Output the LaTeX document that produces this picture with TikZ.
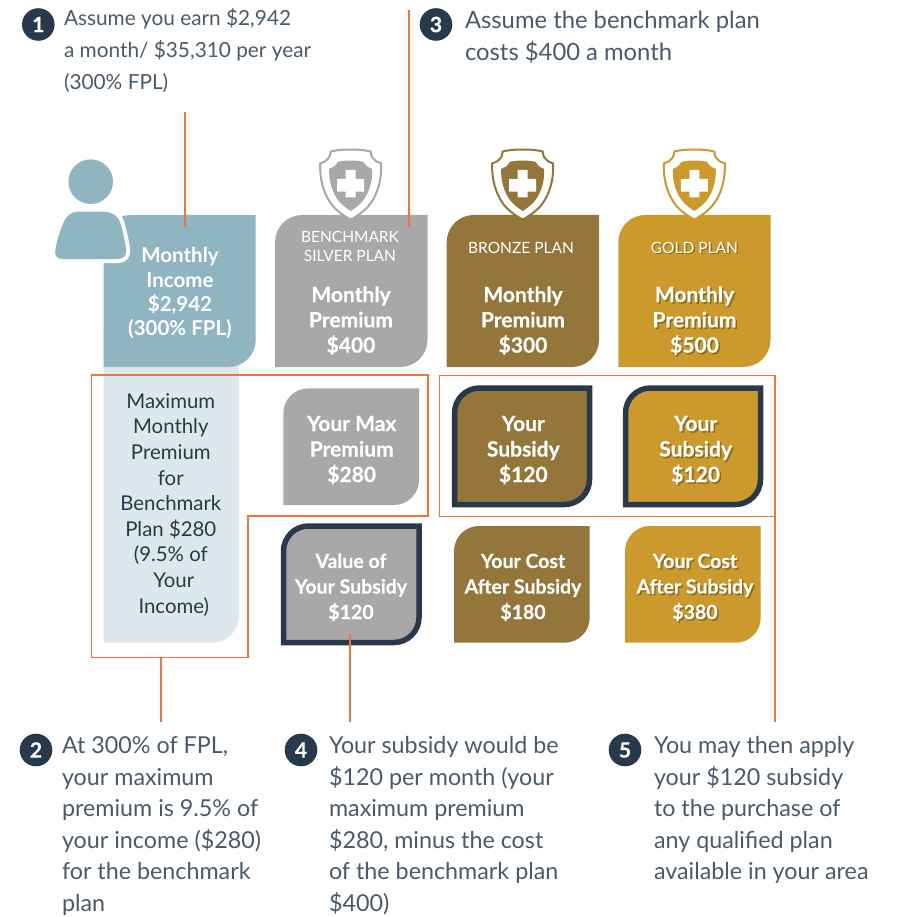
\documentclass[tikz,border=0pt]{standalone}
\usepackage{fontspec}
\setmainfont{Lato}
\newfontfamily\heavyface[BoldFeatures={FakeBold=0.35}]{Lato}
\definecolor{teal}{HTML}{8FB5C1}
\definecolor{pale}{HTML}{DCE8EC}
\definecolor{silver}{HTML}{A9A7A8}
\definecolor{bronze}{HTML}{94763A}
\definecolor{gold}{HTML}{CC992C}
\definecolor{navy}{HTML}{27394A}
\definecolor{wire}{HTML}{F4713A}
\definecolor{ink}{HTML}{4A5A6A}
\tikzset{
  wireline/.style={draw=wire,line width=1.5pt},
  tag/.style={circle,fill=navy,minimum size=32.6pt,inner sep=0pt,text=white,font=\fontsize{21}{21}\selectfont\heavyface\bfseries},
  lbl/.style={inner sep=0pt,outer sep=0pt},
  ctr/.style={align=center},
  ctrm/.style={align=center,node font=\bfseries},
  ctrb/.style={align=center,node font=\heavyface\bfseries},
  lft/.style={align=left},
}
% name, anchor, x, first baseline, size, leading, options, text
\newcommand\txt[8]{\node[lbl,anchor=#2,#7,font=\fontsize{#5}{#6}\selectfont] (#1) at (#3,{#4-.7*#6}) {\strut #8};}
% x1,y1,x2,y2,r,options
\newcommand\planbox[6]{\path[#6] (#1,#4) -- (#1,{#2+#5}) .. controls (#1,{#2+.45*#5}) and ({#1+.45*#5},#2) .. ({#1+#5},#2) -- (#3,#2) -- (#3,{#4-#5}) .. controls (#3,{#4-.45*#5}) and ({#3-.45*#5},#4) .. ({#3-#5},#4) -- cycle;}
% centre x, colour
\newcommand\shield[2]{\begin{scope}[shift={(#1,0)}]
  \path[fill=white,draw=#2,line width=2pt] (0,149.5) .. controls (-8,149.5) and (-14,150) .. (-20,151.5) .. controls (-20.5,155) and (-21,157) .. (-22,158) .. controls (-24,161) and (-27,162.5) .. (-30.5,163.5) .. controls (-31,178) and (-28,194) .. (-17,207) .. controls (-11,213) and (-5,217) .. (0,219.5) .. controls (5,217) and (11,213) .. (17,207) .. controls (28,194) and (31,178) .. (30.5,163.5) .. controls (27,162.5) and (24,161) .. (22,158) .. controls (21,157) and (20.5,155) .. (20,151.5) .. controls (14,150) and (8,149.5) .. (0,149.5) -- cycle;
  \path[fill=#2] (0,160.5) .. controls (-5,160.5) and (-10,161) .. (-13,162) .. controls (-15,166) and (-18,168) .. (-21.5,169) .. controls (-22,180) and (-19,192) .. (-12,201) .. controls (-8,205.5) and (-4,208.5) .. (0,211) .. controls (4,208.5) and (8,205.5) .. (12,201) .. controls (19,192) and (22,180) .. (21.5,169) .. controls (18,168) and (15,166) .. (13,162) .. controls (10,161) and (5,160.5) .. (0,160.5) -- cycle;
  \path[fill=white] (-5,170) rectangle (5,197.3) (-13.5,179) rectangle (13.5,191.7);
\end{scope}}
\begin{document}
\begin{tikzpicture}[x=1pt,y=-1pt]
\useasboundingbox (0,0) rectangle (899,917);
% plan boxes, top row
\planbox{103.5}{300}{239}{642.7}{27}{fill=pale}
\planbox{103.5}{215}{255.7}{367}{27}{fill=teal}
\planbox{275}{215}{427.5}{367}{27}{fill=silver}
\planbox{446.7}{215}{599}{367}{27}{fill=bronze}
\planbox{618.3}{215}{770.5}{367}{27}{fill=gold}
% shields
\shield{350.7}{silver}
\shield{522.7}{bronze}
\shield{694.3}{gold}
% person
\path[fill=teal] (90.7,181.7) circle[radius=22.3];
\path[fill=teal,preaction={draw=white,line width=8pt,line join=round}] (78,211.7) -- (103,211.7) .. controls (113,211.7) and (119,217) .. (121,225) .. controls (123,233) and (125,241) .. (126,249) .. controls (127,255) and (124,259) .. (118,259) -- (62,259) .. controls (57,259) and (54,255) .. (55.5,249) .. controls (57,240) and (60,231) .. (63,224) .. controls (66,216) and (71,211.7) .. (78,211.7) -- cycle;
% second row
\planbox{283.3}{388.3}{419}{505}{25}{fill=silver}
\planbox{454.5}{388}{589.5}{504.5}{25}{fill=bronze,draw=navy,line width=5.5pt}
\planbox{625.5}{388}{760.5}{504.5}{25}{fill=gold,draw=navy,line width=5.5pt}
% third row
\planbox{283.5}{526}{419}{642.5}{25}{fill=silver,draw=navy,line width=5.5pt}
\planbox{454}{526}{589.7}{642.7}{25}{fill=bronze}
\planbox{625}{526}{760.7}{642.7}{25}{fill=gold}
% wires
\path[wireline] (91.5,375) -- (428,375) -- (428,516) -- (248,516) -- (248,657.5) -- (91.5,657.5) -- cycle;
\path[wireline] (439.5,375.5) -- (775,375.5) -- (775,516.5) -- (439.5,516.5) -- cycle;
\coordinate (incTop) at (185,112);
\coordinate (incIn) at (185,227);
\coordinate (silTop) at (409,10);
\coordinate (silIn) at (409,227);
\coordinate (maxOut) at (161,657.5);
\coordinate (maxEnd) at (161,722);
\coordinate (valOut) at (350,634);
\coordinate (valEnd) at (350,722);
\coordinate (subOut) at (775,516.5);
\coordinate (subEnd) at (775,722);
\draw[wireline] (incTop) -- (incIn);
\draw[wireline] (silTop) -- (silIn);
\draw[wireline] (maxOut) -- (maxEnd);
\draw[wireline] (valOut) -- (valEnd);
\draw[wireline] (subOut) -- (subEnd);
% numbered tags
\node[tag] (t1) at (38.3,24.5) {1};
\node[tag] (t3) at (436,24.5) {3};
\node[tag] (t2) at (36,750) {2};
\node[tag] (t4) at (301,750) {4};
\node[tag] (t5) at (625,750) {5};
% notes
\begin{scope}[text=ink]
\txt{n1}{north west}{64}{26}{20.8}{32}{lft}{Assume you earn \$2,942\\a month/ \$35,310 per year\\(300\% FPL)}
\txt{n3}{north west}{465}{28.5}{23.8}{32}{lft}{Assume the benchmark plan\\costs \$400 a month}
\txt{n2}{north west}{62}{753.5}{23.3}{31.6}{lft}{At 300\% of FPL,\\your maximum\\premium is 9.5\% of\\your income (\$280)\\for the benchmark\\plan}
\txt{n4}{north west}{329}{753.5}{23.3}{31.6}{lft}{Your subsidy would be\\\$120 per month (your\\maximum premium\\\$280, minus the cost\\of the benchmark plan\\\$400)}
\txt{n5}{north west}{654}{753.5}{23.3}{31.6}{lft}{You may then apply\\your \$120 subsidy\\to the purchase of\\any qualified plan\\available in your area}
\end{scope}
% box texts
\begin{scope}[text=white]
\txt{incT}{north}{180}{262.7}{20.5}{24.3}{ctrm}{Monthly\\Income\\\$2,942\\(300\% FPL)}
\txt{silL}{north}{350}{242}{15.5}{19}{ctr}{BENCHMARK\\SILVER PLAN}
\txt{silT}{north}{351}{302}{21}{25.3}{ctrb}{Monthly\\Premium\\\$400}
\txt{broL}{north}{521}{253}{15.5}{19}{ctr}{BRONZE PLAN}
\txt{broT}{north}{523}{302}{21}{25.3}{ctrb}{Monthly\\Premium\\\$300}
\txt{maxT}{north}{351.7}{431}{21}{25.5}{ctrb}{Your Max\\Premium\\\$280}
\txt{valT}{north}{351}{568}{19.5}{25.5}{ctrb}{Value of\\Your Subsidy\\\$120}
\txt{subB}{north}{523.3}{431}{21}{25.5}{ctrb}{Your\\Subsidy\\\$120}
\txt{cosB}{north}{523}{568}{19.5}{25.5}{ctrb}{Your Cost\\After Subsidy\\\$180}
\end{scope}
% gold plan texts with their soft shadow
\begin{scope}[shift={(1.6,1.6)},text=black,text opacity=.28]
\txt{golLs}{north}{694.3}{253}{15.5}{19}{ctr}{GOLD PLAN}
\txt{golTs}{north}{694.5}{302}{21}{25.3}{ctrb}{Monthly\\Premium\\\$500}
\txt{subGs}{north}{695.7}{431}{21}{25.5}{ctrb}{Your\\Subsidy\\\$120}
\txt{cosGs}{north}{695}{568}{19.5}{25.5}{ctrb}{Your Cost\\After Subsidy\\\$380}
\end{scope}
\begin{scope}[text=white]
\txt{golL}{north}{694.3}{253}{15.5}{19}{ctr}{GOLD PLAN}
\txt{golT}{north}{694.5}{302}{21}{25.3}{ctrb}{Monthly\\Premium\\\$500}
\txt{subG}{north}{695.7}{431}{21}{25.5}{ctrb}{Your\\Subsidy\\\$120}
\txt{cosG}{north}{695}{568}{19.5}{25.5}{ctrb}{Your Cost\\After Subsidy\\\$380}
\end{scope}
\begin{scope}[text=navy]
\txt{panT}{north}{170.8}{408.3}{20.4}{25.6}{ctr}{Maximum\\Monthly\\Premium\\for\\Benchmark\\Plan \$280\\(9.5\% of\\\hspace*{6pt}Your\\\hspace*{6pt}Income)}
\end{scope}
\end{tikzpicture}
\end{document}
